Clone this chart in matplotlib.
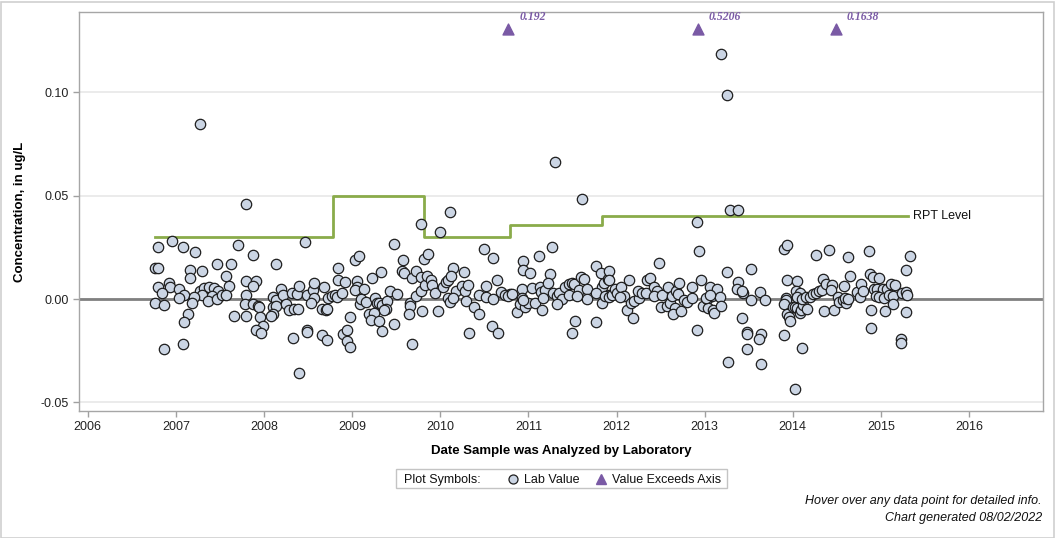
import matplotlib
matplotlib.use("Agg")
import matplotlib.pyplot as plt
from matplotlib.lines import Line2D
from matplotlib.patches import Rectangle
import numpy as np

plt.rcParams['font.family'] = ['Liberation Sans', 'DejaVu Sans']

# ---------------- data (decimal years, ug/L) ----------------
dates_2006_2008 = [2006.76, 2006.80, 2006.80, 2006.96, 2007.08, 2007.22, 2007.71, 2007.88, 2008.13,
                   2007.16, 2007.30, 2007.47, 2007.62, 2007.16, 2007.57, 2007.80, 2007.91, 2007.88,
                   2007.60, 2006.92, 2006.80, 2006.93, 2007.03, 2006.84, 2007.09, 2007.03, 2007.27,
                   2007.32, 2007.38, 2007.43, 2007.48, 2007.30, 2007.41, 2007.36, 2007.47, 2007.52,
                   2007.57, 2007.21, 2007.18, 2006.76, 2006.86, 2007.14, 2007.09, 2007.08, 2006.87,
                   2007.80, 2007.78, 2007.66, 2007.79, 2007.88, 2007.93, 2007.94, 2007.95, 2007.99,
                   2007.91, 2007.97, 2008.33, 2008.40, 2008.10, 2008.13, 2008.10, 2008.14, 2008.10,
                   2008.08, 2008.19, 2008.21, 2008.25, 2008.28, 2008.32, 2008.37, 2008.34, 2008.38,
                   2008.40, 2008.46, 2007.27, 2007.80]
values_2006_2008 = [0.0150, 0.0150, 0.0252, 0.0281, 0.0252, 0.0227, 0.0260, 0.0213, 0.0168,
                    0.0140, 0.0137, 0.0168, 0.0168, 0.0102, 0.0111, 0.0089, 0.0089, 0.0061,
                    0.0063, 0.0079, 0.0060, 0.0058, 0.0050, 0.0028, 0.0019, 0.0006, 0.0040,
                    0.0053, 0.0057, 0.0052, 0.0040, 0.0019, 0.0015, -0.0010, 0.0000, 0.0019,
                    0.0021, 0.0010, -0.0021, -0.0019, -0.0029, -0.0073, -0.0111, -0.0218, -0.0242,
                    0.0019, -0.0026, -0.0082, -0.0082, -0.0024, -0.0032, -0.0040, -0.0087, -0.0129,
                    -0.0152, -0.0166, -0.0190, -0.0357, 0.0008, -0.0005, -0.0037, -0.0034, -0.0074,
                    -0.0080, 0.0048, 0.0019, -0.0026, -0.0053, 0.0030, 0.0023, -0.0048, -0.0050,
                    0.0064, 0.0274, 0.0845, 0.0458]

dates_2008_2010 = [2008.49, 2008.55, 2008.57, 2008.57, 2008.53, 2008.49, 2008.49, 2008.68, 2008.66,
                   2008.70, 2008.72, 2008.66, 2008.71, 2008.73, 2008.77, 2008.80, 2008.83, 2008.88,
                   2008.84, 2008.84, 2008.92, 2008.98, 2008.90, 2008.94, 2008.94, 2008.97, 2009.03,
                   2009.08, 2009.05, 2009.05, 2009.03, 2009.13, 2009.22, 2009.33, 2009.09, 2009.10,
                   2009.16, 2009.26, 2009.28, 2009.31, 2009.34, 2009.40, 2009.38, 2009.36, 2009.19,
                   2009.25, 2009.21, 2009.30, 2009.34, 2009.47, 2009.43, 2009.51, 2009.47, 2009.58,
                   2009.57, 2009.59, 2009.68, 2009.73, 2009.78, 2009.78, 2009.66, 2009.66, 2009.64,
                   2009.68, 2009.72, 2009.78, 2009.79, 2009.81, 2009.86, 2009.83, 2009.85, 2009.89,
                   2009.91, 2009.94, 2009.97]
values_2008_2010 = [0.0018, 0.0044, 0.0077, 0.0005, -0.0021, -0.0150, -0.0158, 0.0058, -0.0047,
                    -0.0053, -0.0048, -0.0173, -0.0198, 0.0003, 0.0015, 0.0021, 0.0008, 0.0028,
                    0.0150, 0.0092, 0.0081, -0.0086, -0.0171, -0.0150, -0.0203, -0.0232, 0.0189,
                    0.0207, 0.0087, 0.0060, 0.0044, 0.0048, 0.0102, 0.0131, -0.0024, 0.0001,
                    -0.0013, 0.0006, -0.0018, -0.0021, -0.0030, -0.0011, -0.0050, -0.0053, -0.0073,
                    -0.0069, -0.0102, -0.0108, -0.0156, -0.0120, 0.0037, 0.0024, 0.0266, 0.0189,
                    0.0136, 0.0124, 0.0103, 0.0137, 0.0108, 0.0363, -0.0021, -0.0034, -0.0073,
                    -0.0218, 0.0015, 0.0040, -0.0058, 0.0195, 0.0216, 0.0068, 0.0111, 0.0092,
                    0.0066, 0.0028, -0.0057]

dates_2010_2012 = [2010.00, 2010.03, 2010.06, 2010.09, 2010.11, 2010.15, 2010.12, 2010.09, 2010.11,
                   2010.27, 2010.50, 2010.60, 2010.64, 2010.52, 2010.18, 2010.25, 2010.28, 2010.32,
                   2010.14, 2010.29, 2010.44, 2010.52, 2010.60, 2010.69, 2010.79, 2010.38, 2010.44,
                   2010.33, 2010.59, 2010.66, 2010.74, 2010.77, 2010.81, 2010.94, 2010.94, 2011.02,
                   2011.12, 2011.27, 2011.24, 2010.93, 2011.04, 2010.87, 2010.91, 2010.96, 2010.99,
                   2011.07, 2010.93, 2010.94, 2011.13, 2011.14, 2011.19, 2011.22, 2011.17, 2011.16,
                   2011.28, 2011.32, 2011.35, 2011.38, 2011.33, 2011.41, 2011.46, 2011.49, 2011.52,
                   2011.46, 2011.53, 2011.49, 2011.60, 2011.63, 2011.60, 2011.57, 2011.66, 2011.66,
                   2011.55, 2011.77, 2011.82, 2011.83, 2011.86, 2011.90, 2011.77, 2011.83, 2011.77,
                   2011.91, 2011.30, 2011.61, 2011.92, 2011.91, 2011.87, 2011.91, 2011.95, 2011.98]
values_2010_2012 = [0.0323, 0.0060, 0.0082, 0.0092, 0.0421, 0.0150, 0.0111, 0.0003, -0.0013,
                    0.0131, 0.0240, 0.0198, 0.0092, 0.0063, 0.0039, 0.0064, 0.0040, 0.0066,
                    0.0005, -0.0010, 0.0018, 0.0011, 0.0000, 0.0032, 0.0024, -0.0040, -0.0073,
                    -0.0165, -0.0131, -0.0165, 0.0019, 0.0015, 0.0024, 0.0184, 0.0140, 0.0124,
                    0.0208, 0.0252, 0.0122, 0.0048, 0.0052, -0.0064, -0.0024, -0.0037, -0.0021,
                    -0.0018, 0.0006, -0.0005, 0.0060, 0.0035, 0.0044, 0.0076, 0.0003, -0.0053,
                    0.0028, 0.0015, 0.0028, -0.0001, -0.0026, 0.0057, 0.0073, 0.0079, 0.0073,
                    0.0018, -0.0105, -0.0165, 0.0105, 0.0095, 0.0035, 0.0044, 0.0050, 0.0000,
                    0.0015, 0.0160, 0.0124, 0.0060, 0.0079, 0.0095, 0.0028, -0.0021, -0.0113,
                    0.0019, 0.0662, 0.0484, 0.0136, 0.0092, 0.0015, 0.0008, 0.0019, 0.0048]

dates_2012_2013 = [2012.00, 2012.05, 2012.08, 2012.04, 2012.14, 2012.12, 2012.19, 2012.16, 2012.20,
                   2012.25, 2012.24, 2012.29, 2012.34, 2012.35, 2012.38, 2012.48, 2012.42, 2012.46,
                   2012.42, 2012.52, 2012.51, 2012.57, 2012.61, 2012.58, 2012.63, 2012.68, 2012.70,
                   2012.71, 2012.66, 2012.64, 2012.73, 2012.77, 2012.80, 2012.86, 2012.86, 2012.91,
                   2012.94, 2012.96, 2012.91, 2012.98, 2013.03, 2013.06, 2013.08, 2013.04, 2013.10,
                   2013.11, 2013.14, 2013.17, 2013.19, 2013.01, 2013.06, 2013.25, 2013.29, 2013.38,
                   2013.27, 2013.38, 2013.37, 2013.44, 2013.42, 2013.42, 2013.53, 2013.53, 2013.48,
                   2013.48, 2013.48, 2013.63, 2013.64, 2013.62, 2013.64, 2013.69, 2013.19, 2013.25]
values_2012_2013 = [0.0030, 0.0057, 0.0015, 0.0011, 0.0092, -0.0053, -0.0090, -0.0021, -0.0008,
                    0.0003, 0.0039, 0.0028, 0.0028, 0.0092, 0.0103, 0.0173, 0.0060, 0.0040,
                    0.0015, 0.0019, -0.0040, -0.0034, -0.0018, 0.0057, 0.0015, 0.0040, 0.0024,
                    0.0076, -0.0042, -0.0073, -0.0060, -0.0005, -0.0013, 0.0060, 0.0006, 0.0373,
                    0.0232, 0.0092, -0.0150, -0.0034, -0.0001, 0.0060, 0.0015, -0.0045, -0.0053,
                    -0.0066, 0.0048, 0.0011, -0.0034, 0.0003, 0.0019, 0.0131, 0.0431, 0.0431,
                    -0.0306, 0.0084, 0.0048, 0.0030, 0.0040, -0.0090, 0.0144, -0.0005, -0.0161,
                    -0.0171, -0.0244, 0.0032, -0.0169, -0.0195, -0.0315, -0.0005, 0.1184, 0.0987]

dates_2014_2015 = [2013.90, 2013.94, 2013.94, 2014.05, 2013.92, 2013.92, 2013.90, 2013.94, 2013.96,
                   2013.97, 2013.90, 2014.11, 2014.03, 2014.00, 2014.03, 2014.05, 2014.08, 2014.09,
                   2014.12, 2014.16, 2014.04, 2014.08, 2014.05, 2014.11, 2014.15, 2014.20, 2014.23,
                   2014.26, 2014.30, 2014.33, 2014.34, 2014.26, 2014.41, 2014.38, 2014.44, 2014.43,
                   2014.35, 2014.47, 2014.51, 2014.52, 2014.57, 2014.60, 2014.59, 2014.63, 2014.58,
                   2014.63, 2014.65, 2014.73, 2014.76, 2014.77, 2014.80, 2014.86, 2014.88, 2014.91,
                   2014.98, 2014.89, 2014.89, 2014.92, 2014.96, 2015.02, 2015.07, 2015.12, 2015.16,
                   2014.94, 2014.98, 2015.04, 2015.09, 2015.14, 2015.05, 2015.14, 2015.23, 2015.23,
                   2015.28, 2015.33, 2015.24, 2015.28, 2015.30, 2015.29]
values_2014_2015 = [0.0240, 0.0260, 0.0092, 0.0087, 0.0006, -0.0005, -0.0024, -0.0073, -0.0089,
                    -0.0106, -0.0174, -0.0239, -0.0436, -0.0037, -0.0037, -0.0045, -0.0069, -0.0053,
                    -0.0029, -0.0047, 0.0040, 0.0030, 0.0011, -0.0001, 0.0008, 0.0008, 0.0024,
                    0.0030, 0.0040, 0.0044, 0.0095, 0.0211, 0.0237, 0.0073, 0.0068, 0.0044,
                    -0.0060, -0.0053, 0.0008, -0.0013, -0.0005, -0.0018, 0.0003, -0.0001, 0.0063,
                    0.0202, 0.0111, 0.0032, 0.0008, 0.0071, 0.0040, 0.0232, 0.0121, 0.0108,
                    0.0100, -0.0053, -0.0140, 0.0047, 0.0050, 0.0048, 0.0047, 0.0073, 0.0068,
                    0.0015, 0.0008, 0.0003, 0.0019, 0.0015, -0.0060, -0.0026, -0.0194, -0.0211,
                    0.0140, 0.0208, 0.0028, 0.0035, 0.0021, -0.0064]

# values above the axis maximum
exceed_dates = [2010.77, 2012.92, 2014.49]
exceed_values = [0.192, 0.5206, 0.1638]
exceed_labels = ['0.192', '0.5206', '0.1638']

# reporting level steps (value holds until next change date)
rpt_dates = [2006.76, 2008.78, 2009.81, 2010.79, 2011.83, 2015.31]
rpt_levels = [0.030, 0.050, 0.030, 0.036, 0.040, 0.040]

x_ticks = list(range(2006, 2017))
y_ticks = [-0.05, 0.00, 0.05, 0.10]
y_min, y_max = -0.0542, 0.1389
axis_cap = 0.1306   # level where exceeding values are drawn

# ---------------- figure ----------------
W, H = 1056, 538
fig = plt.figure(figsize=(W / 100, H / 100), dpi=100)
fig.patches.append(Rectangle((0.5 / W, 0.5 / H), 1053 / W, 536 / H, transform=fig.transFigure,
                             fill=False, edgecolor='#cfcfcf', lw=1.2))

ax = fig.add_axes([79 / W, 1 - 411 / H, (1043 - 79) / W, (411 - 12) / H])

dates = np.array(dates_2006_2008 + dates_2008_2010 + dates_2010_2012 + dates_2012_2013 + dates_2014_2015)
values = np.array(values_2006_2008 + values_2008_2010 + values_2010_2012 + values_2012_2013 + values_2014_2015)

ax.set_xlim(2005.90, 2016.84)
ax.set_ylim(y_min, y_max)

ax.yaxis.grid(True, color='#e8e8e8', lw=1.2)
ax.set_axisbelow(True)
ax.axhline(0, color='#808080', lw=2, zorder=2)

ax.step(rpt_dates, rpt_levels, where='post', color='#8aab4a', lw=2, zorder=2.5)
ax.text(rpt_dates[-1] + 0.06, rpt_levels[-1], 'RPT Level', va='center', ha='left',
        fontsize=9, color='#111111')

ax.scatter(dates, values, s=56, facecolor='#cbd5e4', edgecolor='#1e1e1e', linewidth=0.9, zorder=3)

cap_y = [min(v, axis_cap) for v in exceed_values]
ax.scatter(exceed_dates, cap_y, marker='^', s=62, color='#7a5aa5', zorder=3)
for xd, yd, lab in zip(exceed_dates, cap_y, exceed_labels):
    ax.annotate(lab, (xd, yd), xytext=(8, 9), textcoords='offset points', ha='left', va='center',
                fontsize=8.5, fontweight='bold', fontstyle='italic', color='#7a5aa5',
                family=['Liberation Serif', 'DejaVu Serif'])

ax.set_xticks(x_ticks)
ax.set_xticklabels([str(t) for t in x_ticks])
ax.set_yticks(y_ticks)
ax.set_yticklabels(['-0.05', '0.00', '0.05', '0.10'])
ax.tick_params(axis='both', colors='#a0a0a0', labelcolor='#222222', labelsize=9, length=4, width=1)
for s in ax.spines.values():
    s.set_color('#a6a6a6')
    s.set_linewidth(1)

ax.set_xlabel('Date Sample was Analyzed by Laboratory', fontsize=9.5, fontweight='bold', labelpad=8)
ax.set_ylabel('Concentration, in ug/L', fontsize=9.5, fontweight='bold', labelpad=10)

# ---------------- legend box ----------------
fig.patches.append(Rectangle((396 / W, 1 - 488 / H), (727 - 396) / W, 19 / H, transform=fig.transFigure,
                             fill=True, facecolor='white', edgecolor='#c4c4c4', lw=1))
ly = 1 - 478.5 / H
fig.text(404 / W, ly, 'Plot Symbols:', fontsize=9, va='center_baseline', ha='left', color='#111111')
fig.add_artist(Line2D([513 / W], [ly], marker='o', markersize=6.5, markerfacecolor='#cbd5e4',
                      markeredgecolor='#1e1e1e', markeredgewidth=0.9, transform=fig.transFigure))
fig.text(524 / W, ly, 'Lab Value', fontsize=9, va='center_baseline', ha='left', color='#111111')
fig.add_artist(Line2D([601 / W], [ly], marker='^', markersize=7.5, color='#7a5aa5', linestyle='none',
                      transform=fig.transFigure))
fig.text(612 / W, ly, 'Value Exceeds Axis', fontsize=9, va='center_baseline', ha='left', color='#111111')

# ---------------- footer ----------------
fig.text(1042 / W, 1 - 501 / H, 'Hover over any data point for detailed info.', fontsize=9,
         fontstyle='italic', ha='right', va='center', color='#111111')
fig.text(1042 / W, 1 - 518 / H, 'Chart generated 08/02/2022', fontsize=9,
         fontstyle='italic', ha='right', va='center', color='#111111')

fig.savefig('out.png', dpi=100)
